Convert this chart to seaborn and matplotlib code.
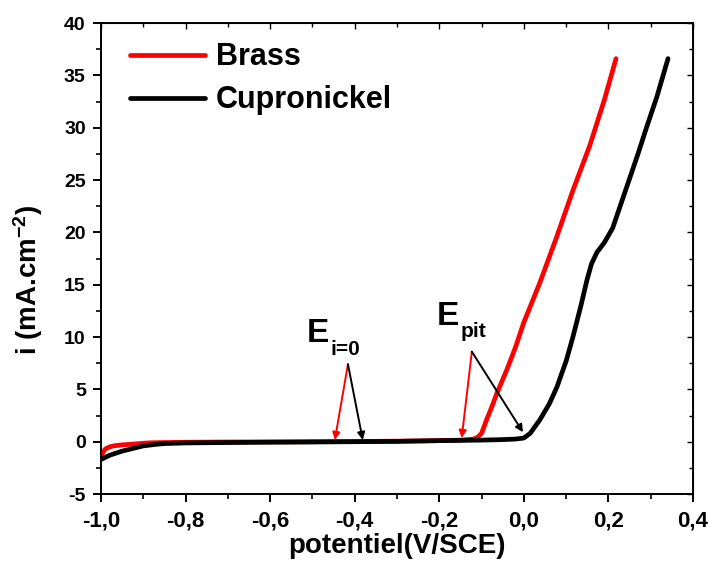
import matplotlib
matplotlib.use("Agg")
import matplotlib.pyplot as plt
import seaborn as sns
import pandas as pd
from matplotlib.ticker import MultipleLocator, FuncFormatter

brass_x = [-1.0, -0.995, -0.99, -0.98, -0.97, -0.95, -0.93, -0.9, -0.88, -0.85, -0.8, -0.7, -0.6, -0.5, -0.4,
           -0.3, -0.2, -0.15, -0.12, -0.11, -0.1, -0.088, -0.075, -0.064, -0.04, -0.02, 0.0, 0.038, 0.078,
           0.116, 0.156, 0.19, 0.218]
brass_y = [-1.4, -1.0, -0.7, -0.5, -0.4, -0.3, -0.25, -0.15, -0.1, -0.08, -0.05, -0.03, -0.02, 0.0, 0.02,
           0.05, 0.1, 0.15, 0.25, 0.4, 0.8, 2.1, 3.4, 4.6, 6.9, 9.0, 11.4, 15.2, 19.6, 24.0, 28.3, 32.6, 36.6]

cupro_x = [-1.0, -0.98, -0.95, -0.92, -0.9, -0.87, -0.85, -0.8, -0.7, -0.6, -0.5, -0.4, -0.3, -0.2, -0.1,
           -0.05, -0.02, 0.0, 0.015, 0.038, 0.06, 0.078, 0.1, 0.116, 0.135, 0.149, 0.16, 0.173, 0.19, 0.21,
           0.243, 0.27, 0.29, 0.315, 0.341]
cupro_y = [-1.7, -1.3, -0.9, -0.6, -0.4, -0.25, -0.18, -0.12, -0.08, -0.05, -0.03, 0.0, 0.03, 0.1, 0.15,
           0.2, 0.25, 0.35, 0.8, 2.1, 3.6, 5.2, 7.7, 10.0, 13.0, 15.4, 17.0, 18.1, 19.0, 20.4, 24.3, 27.5,
           30.0, 33.0, 36.6]

x_ticks = [-1.0, -0.8, -0.6, -0.4, -0.2, 0.0, 0.2, 0.4]
y_ticks = [-5, 0, 5, 10, 15, 20, 25, 30, 35, 40]

sns.set_style("ticks")
plt.rcParams['font.family'] = ['Liberation Sans', 'DejaVu Sans']
plt.rcParams['font.weight'] = 'bold'
plt.rcParams['text.color'] = 'black'
plt.rcParams['axes.labelcolor'] = 'black'
plt.rcParams['xtick.color'] = 'black'
plt.rcParams['ytick.color'] = 'black'
plt.rcParams['axes.edgecolor'] = 'black'
plt.rcParams['mathtext.fontset'] = 'custom'
plt.rcParams['mathtext.rm'] = 'Liberation Sans:bold'
plt.rcParams['mathtext.bf'] = 'Liberation Sans:bold'
plt.rcParams['mathtext.it'] = 'Liberation Sans:bold'
plt.rcParams['mathtext.default'] = 'bf'

df = pd.concat([
    pd.DataFrame({"x": brass_x, "y": brass_y, "alloy": "Brass"}),
    pd.DataFrame({"x": cupro_x, "y": cupro_y, "alloy": "Cupronickel"}),
])

fig = plt.figure(figsize=(7.09, 5.67), dpi=100)
ax = fig.add_axes([0.1425, 0.1287, 0.8349, 0.8307])
sns.lineplot(data=df, x="x", y="y", hue="alloy", palette={"Brass": "#ff0000", "Cupronickel": "#000000"},
             sort=False, estimator=None, linewidth=3.4, ax=ax)

ax.set_xlim(-1.0, 0.4)
ax.set_ylim(-5, 40)
ax.set_xticks(x_ticks)
ax.set_yticks(y_ticks)
ax.xaxis.set_minor_locator(MultipleLocator(0.1))
ax.yaxis.set_minor_locator(MultipleLocator(2.5))
ax.xaxis.set_major_formatter(FuncFormatter(lambda v, p: f"{v:.1f}".replace(".", ",").replace("-0,0", "0,0")))
ax.yaxis.set_major_formatter(FuncFormatter(lambda v, p: f"{v:.0f}"))
ax.tick_params(which='major', direction='out', length=6, width=1.4, top=False, right=False, color='black')
ax.tick_params(which='minor', direction='out', length=3.5, width=1.2, top=False, right=False, color='black')
ax.tick_params(axis='x', which='major', labelsize=16, pad=6, labelcolor='black')
ax.tick_params(axis='y', which='major', labelsize=14, pad=5, labelcolor='black')
for lab in ax.get_xticklabels() + ax.get_yticklabels():
    lab.set_fontweight('bold')
for s in ax.spines.values():
    s.set_linewidth(1.4)
    s.set_color('black')

ax_top = ax.secondary_xaxis('top')
ax_top.set_xticks(x_ticks)
ax_top.xaxis.set_minor_locator(MultipleLocator(0.1))
ax_top.tick_params(which='major', direction='in', length=4, width=1.0)
ax_top.tick_params(which='minor', direction='in', length=3, width=1.0)
ax_top.set_xticklabels([])
ax_r = ax.secondary_yaxis('right')
ax_r.set_yticks(y_ticks)
ax_r.yaxis.set_minor_locator(MultipleLocator(2.5))
ax_r.tick_params(which='major', direction='in', length=4, width=1.0)
ax_r.tick_params(which='minor', direction='in', length=3, width=1.0)
ax_r.set_yticklabels([])

ax.set_xlabel("potentiel(V/SCE)", fontsize=20, fontweight='bold', labelpad=1, color='black')
ax.set_ylabel("i (mA.cm$^{-2}$)", fontsize=20, fontweight='bold', color='black')
ax.yaxis.set_label_coords(-0.095, 0.455)

leg = ax.legend(loc='upper left', frameon=False, fontsize=22, handlelength=2.45, handletextpad=0.36,
                borderpad=0, borderaxespad=0, labelspacing=0.43, bbox_to_anchor=(0.049, 0.959))
for t in leg.get_texts():
    t.set_fontweight('bold')
    t.set_color('black')
for l in leg.get_lines():
    l.set_linewidth(3.4)

ax.text(-0.513, 9.52, "E", fontsize=24, fontweight='bold', ha='left', va='baseline')
ax.annotate("i=0", xy=(-0.513, 9.52), xytext=(17.3, -9.4), textcoords='offset points',
            fontsize=15, fontweight='bold', ha='left', va='baseline')
ax.text(-0.206, 11.14, "E", fontsize=24, fontweight='bold', ha='left', va='baseline')
ax.annotate("pit", xy=(-0.206, 11.14), xytext=(17.3, -8.6), textcoords='offset points',
            fontsize=15, fontweight='bold', ha='left', va='baseline')

arr = dict(arrowstyle='-|>', lw=1.4, mutation_scale=11, shrinkA=0, shrinkB=0)
ax.annotate("", xy=(-0.447, 0.16), xytext=(-0.416, 7.4), arrowprops={**arr, 'color': '#ff0000'})
ax.annotate("", xy=(-0.381, 0.16), xytext=(-0.416, 7.4), arrowprops={**arr, 'color': '#000000'})
ax.annotate("", xy=(-0.147, 0.35), xytext=(-0.123, 8.6), arrowprops={**arr, 'color': '#ff0000'})
ax.annotate("", xy=(-0.002, 0.9), xytext=(-0.123, 8.6), arrowprops={**arr, 'color': '#000000'})

fig.savefig("out.png", dpi=100)
